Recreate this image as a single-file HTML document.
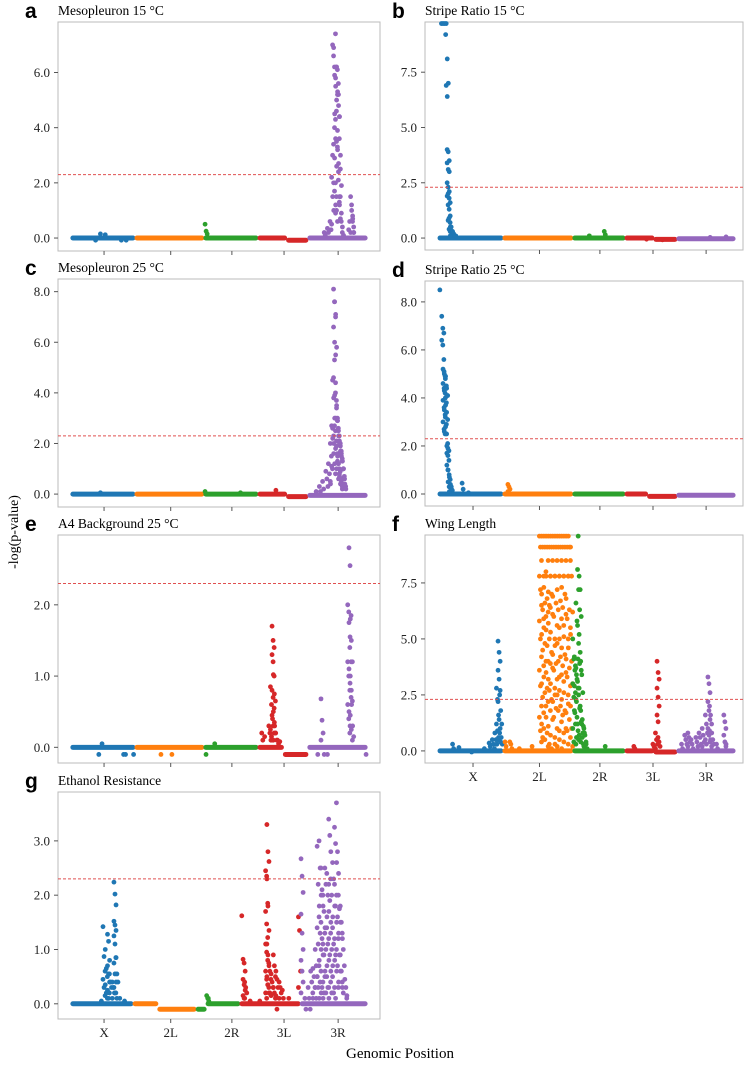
<!DOCTYPE html>
<html><head><meta charset="utf-8"><style>
html,body{margin:0;padding:0;background:#fff;}
svg text{font-family:"Liberation Serif",serif;}
</style></head><body>
<svg id="fig" width="750" height="1064" viewBox="0 0 750 1064" xmlns="http://www.w3.org/2000/svg">
<text x="18" y="532" font-size="14" text-anchor="middle" transform="rotate(-90 18 532)">-log(p-value)</text>
<text x="400" y="1058" font-size="15" text-anchor="middle">Genomic Position</text>
</svg>
<script>
const colors=["#1f77b4","#ff7f0e","#2ca02c","#d62728","#9467bd"];
const chromLabels=["X","2L","2R","3L","3R"];
const threshold=2.3;
const leftBounds=[4,23.9,45.3,62.1,77.6,96];
const rightBounds=[4.1,24.5,46.5,62.9,79.2,97.5];
const gBounds=[4,23.3,42.9,56.5,75.2,96];
const leftTicks=[14.3,35,54,70.2,87];
const rightTicks=[15.1,36,55,71.7,88.4];

// panel a
const aCols=[12,13.5,15,20,21.5,46,83,84,84.8,85.3,85.6,85.9,86.2,86.5,86.8,87.1,87.4,87.7,88.0,88.3,89,90.6,90.9,91.2,91.5,91.8,92.2];
const aVals=[[-0.08],[0.15],[0.12],[-0.08],[-0.08],[0.5,0.25,0.15],[0.2,0.1],[0.35,0.2],[0.6,0.3],[2.2,1.5,1.0,0.5],[7.0,6.9,4.5,3.0,2.0],[6.6,5.9,5.5,3.4,2.9,1.2],[6.2,5.8,5.0,4.0,3.6,2.6,1.7,0.9],[7.4,6.2,5.3,4.3,3.5,3.2,2.0,1.0],[6.2,5.2,4.8,4.6,3.9,2.7,1.5,0.6],[6.1,5.2,4.4,3.3,2.4,1.2],[5.6,4.4,3.0,2.1,1.5],[3.6,2.5,1.9,1.3,0.7],[1.5,0.9,0.4],[0.6,0.2],[0.1],[0.3],[0.6,0.2],[1.5,1.0,0.7],[1.2,0.8,0.4],[0.6,0.2],[0.2]];
const aBase=[[4,23.9,0],[23.9,45.3,0],[45.3,62.1,0],[62.1,71,0],[71,77.6,-0.08],[77.6,96,0]];
// panel b
const bCols=[5.5,6.0,6.5,7.0,7.3,7.6,7.9,8.3,9,10,52,56.7,70,75,90,95];
const bVals=[[9.7],[9.7],[9.7,9.2],[9.7,8.1,7.0,6.9,6.4],[4.0,3.9,3.5,3.4,3.1,3.0,2.5,2.3,2.1,1.9],[2.0,1.8,1.6,1.5,1.3,1.0,0.8],[0.9,0.7,0.5,0.4,0.3],[0.5,0.3,0.2,0.1],[0.3,0.2,0.1],[0.1],[0.1],[0.3,0.15],[-0.05],[-0.08],[0.03],[0.05]];
const bBase=[[4.1,24.5,0],[24.5,46.5,0],[46.5,62.9,0],[62.9,72,0],[72,79.2,-0.06],[79.2,97.5,-0.03]];
// panel c
const cCols=[13.5,46,57,68,80.5,81.5,82.5,83.5,84.3,84.9,85.3,85.6,85.9,86.2,86.5,86.8,87.1,87.4,87.7,88.0,88.3,88.6,89.0,89.4];
const cVals=[[0.05],[0.1],[0.05],[0.15],[0.1],[0.3,0.1],[0.5,0.2],[0.9,0.6,0.3],[1.2,0.8,0.4],[2.0,1.5,1.0,0.5],[2.7,2.2,1.6,1.1],[4.5,3.8,3.0,2.6,2.0,1.2],[8.1,7.6,7.1,6.6,6.0,5.5,4.6,3.9,3.0,2.3],[7.6,7.0,5.8,5.3,4.4,3.5,2.7,1.8,1.0],[4.0,3.4,2.9,2.5,2.1,1.5,0.8],[3.7,3.0,2.3,1.9,1.3,0.6],[2.9,2.5,2.0,1.6,1.2,0.7],[2.6,2.1,1.7,1.2,0.8,0.4],[2.3,1.9,1.5,1.0,0.6],[2.0,1.6,1.3,0.9,0.5],[1.7,1.3,1.0,0.6,0.2],[1.4,1.0,0.7,0.3],[1.0,0.6,0.3],[0.4,0.2]];
const cBase=[[4,23.9,0],[23.9,45.3,0],[45.3,62.1,0],[62.1,71,0],[71,77.6,-0.1],[77.6,96,-0.05]];
// panel d
const dCols=[5.0,5.6,6.0,6.4,6.8,7.2,7.6,8.0,8.6,12,14,26.4];
const dVals=[[8.5],[7.4,6.9,6.7,6.4,6.2,5.6],[5.2,5.1,4.9,4.6,4.4,4.2,3.9,3.6,3.3,3.0,2.7,2.5],[5.0,4.8,4.5,4.3,4.0,3.8,3.5,3.2,2.9,2.6],[4.9,4.4,4.1,3.7,3.4,3.1,2.8,2.5,2.1],[2.0,1.9,1.8,1.7,1.6,1.4,1.2,1.0],[1.0,0.8,0.6,0.5,0.3],[0.7,0.4,0.2,0.1],[0.3,0.15],[0.45,0.2],[0.05],[0.4,0.3,0.2,0.1]];
const dBase=[[4.1,24.5,0],[24.5,46.5,0],[46.5,62.9,0],[62.9,70,0],[70,79.2,-0.1],[79.2,97.5,-0.05]];
// panel e
const eCols=[13,14,20.7,21.3,23.8,32.3,35.7,46.3,49,63.6,64.5,65.8,66.3,66.8,67.2,67.6,68.5,69.2,81,82,83,84,90.3,90.7,91.1,91.5,96];
const eVals=[[-0.1],[0.05],[-0.1],[-0.1],[-0.1],[-0.1],[-0.1],[-0.1],[0.05],[0.2,0.1],[0.15],[0.3,0.2,0.1],[0.85,0.6,0.4,0.25,0.15],[1.7,1.5,1.4,1.3,1.2,1.0,0.8,0.7,0.55,0.45,0.3,0.2,0.1],[1.02,0.75,0.65,0.5,0.35,0.2,0.1],[0.3,0.2,0.1],[0.1,0.05],[0.08],[-0.1],[0.68,0.38,0.2,0.1],[-0.1],[-0.1],[2.0,1.9,1.4,1.2,1.0,0.8,0.6,0.4,0.2],[2.8,2.55,1.85,1.75,1.55,1.2,1.1,0.9,0.7,0.5,0.3],[1.8,1.5,1.2,1.0,0.8,0.65,0.45,0.25,0.1],[0.6,0.3,0.15],[-0.1]];
const eBase=[[4,23.9,0],[23.9,45.3,0],[45.3,62.1,0],[62.1,70,0],[70,77.6,-0.1],[77.6,96,0]];
// panel f
const fCols=[9,11,15,19,20.5,21.5,22.3,22.8,23.3,23.8,24.3,25.5,27,30,34,36.3,37.0,37.7,38.4,39.1,39.8,40.5,41.2,41.9,42.6,43.3,44.0,44.7,45.4,46.1,46.8,47.3,47.8,48.3,48.5,48.8,49.3,49.8,50.3,51,57,66,72,72.8,73.3,73.6,81,82,83,84,85.5,86.5,87.5,88.5,89.3,89.8,90.5,92,94.3,95];
const fVals=[[0.3,0.1],[0.15],[-0.05],[0.1],[0.35,0.2],[0.5,0.3,0.1],[0.8,0.5,0.3],[2.8,2.3,1.6,1.2,0.9,0.6,0.3],[4.9,4.4,4.0,3.6,3.2,2.7,2.2,1.4,1.0,0.5],[2.5,1.8,1.2,0.8,0.4],[0.6,0.3],[0.4,0.2],[0.4,0.3,0.1],[0.1],[0.2],
[9.7,9.1,8.5,7.8,7.2,6.5,5.8,5.0,4.2,3.6,2.9,2.0,1.5,0.9,0.4],[9.7,9.1,7.8,7.0,6.3,5.9,5.2,4.5,3.8,3.0,2.4,1.7,1.2,0.6],[9.7,9.1,8.0,7.3,6.6,6.0,5.5,4.8,4.0,3.3,2.6,2.0,1.0,0.5],[9.7,9.1,8.5,7.8,6.8,6.2,5.4,4.7,4.0,3.5,2.8,2.2,1.5,0.8,0.2],[9.7,9.1,7.8,7.1,6.5,6.4,5.7,5.0,3.9,3.2,2.7,1.8,1.1,0.3],[9.7,9.1,8.5,7.8,7.0,6.1,5.3,4.4,3.7,3.0,2.3,1.4,0.7,0.1],[9.7,9.1,7.8,6.9,6.0,5.0,4.3,3.6,2.8,2.2,1.5,0.6],[9.7,9.1,8.5,7.8,6.6,5.6,4.7,3.9,3.2,2.5,1.9,1.0,0.3],[9.7,9.1,7.8,7.2,6.3,5.5,4.8,4.0,3.3,2.5,1.8,0.9,0.2],[9.7,9.1,8.5,7.8,6.7,5.9,5.0,4.2,3.4,2.7,2.0,1.3,0.5],[9.7,9.1,7.8,7.3,6.4,5.6,4.6,3.8,3.1,2.3,1.6,0.8,0.1],[9.7,9.1,8.5,7.8,7.0,6.1,5.1,4.3,3.5,2.6,1.8,1.0,0.4],[9.7,9.1,7.8,6.8,5.9,5.0,4.1,3.3,2.5,1.7,0.9,0.3],[9.7,9.1,8.5,7.8,6.3,5.5,4.6,3.7,2.9,2.1,1.4,0.6],[9.1,7.8,6.2,5.2,4.0,3.0,2.0,1.0,0.2],
[5.0,4.1,3.6,3.0,2.4,1.7,1.0,0.4],[4.2,3.8,3.4,2.9,2.6,2.2,1.8,1.2,0.6],[6.6,5.8,4.1,3.7,3.2,2.8,2.3,1.5,0.9,0.3],[8.1,7.2,6.3,5.6,4.8,3.9,3.1,2.5,1.9,1.2,0.5],[9.6],[7.8,7.2,6.0,5.2,4.4,3.6,2.8,2.0,1.3,0.7],[4.0,3.4,2.6,1.8,1.2,0.8,0.4],[1.4,1.1,0.8,0.6,0.3],[1.0,0.7,0.4,0.2],[0.3,0.1],[0.2],
[0.2,0.1],[0.3,0.2],[0.8,0.5,0.3,0.1],[4.0,3.5,3.2,2.8,2.4,2.0,1.6,1.3],[0.6,0.4,0.2],
[0.3,0.1],[0.7,0.5,0.3],[0.8,0.6,0.4,0.2],[0.5,0.3,0.1],[0.6,0.4,0.2],[0.8,0.6,0.3],[1.0,0.7,0.4,0.2],[1.6,1.2,0.8,0.5,0.3],[3.3,3.0,2.6,2.2,1.8,1.4,1.0,0.7,0.4],[2.0,1.6,1.2,0.9,0.5,0.2],[0.8,0.5,0.3],[0.3,0.1],[1.6,1.3,1.0,0.7,0.4,0.2],[0.3]];
const fBase=[[4.1,24.5,0],[24.5,46.5,0],[46.5,62.9,0],[62.9,72,0],[72,79.2,-0.05],[79.2,97.5,0]];
// panel g
const gCols=[13.8,14.3,15,15.7,16.3,17.2,17.7,18.3,19.5,21,46.5,47,57.4,57.8,58.3,60,63,64.8,65.2,65.8,66.5,67.2,68,69,70,72,75,75.8,77,78,78.8,79.5,80.2,80.8,81.4,82,82.6,83.2,83.8,84.4,85,85.6,86.2,86.8,87.4,88,88.6,89.4,90];
const gVals=[[0.05],[1.42,0.87,0.6,0.45,0.3,0.15],[1.0,0.65,0.5,0.35,0.2,0.1],[1.28,1.15,0.8,0.7,0.55,0.4,0.25,0.1],[0.55,0.4,0.3,0.2],[0.4,0.3,0.2,0.1],[2.24,2.02,1.82,1.52,1.45,1.35,1.25,1.1,0.85,0.75,0.55,0.4,0.3,0.2],[0.85,0.55,0.4,0.2,0.1],[0.1],[0.05],[0.15,0.1,0.05],[0.1],[1.62],[0.82,0.75,0.6,0.45,0.35,0.25,0.15,0.1],[0.4,0.3,0.2,0.1],[0.05],[0.05],[2.45,2.35,1.85,1.7,1.47,1.22,1.1,0.95,0.8,0.6,0.45,0.35,0.2,0.1],[3.3,2.8,2.62,2.3,1.8,1.35,1.1,0.9,0.7,0.5,0.35,0.2],[0.75,0.6,0.45,0.3,0.2],[0.55,0.4,0.3,0.15],[0.9,0.7,0.5,0.3,0.2,0.1],[0.6,0.45,0.3,0.15,-0.1],[0.4,0.3,0.2,0.1],[0.25,0.1],[0.1],[1.6,1.35,0.6,0.3],[2.67,2.35,2.05,1.65,1.3,1.0,0.8,0.6,0.4,0.2],[0.1,-0.1],[0.3,0.1,-0.1],[0.6,0.4,0.2],[0.65,0.5,0.3,0.1],[1.0,0.7,0.5,0.3,0.1],[2.9,2.2,1.8,1.4,1.1,0.8,0.5,0.3,0.1],[3.0,2.5,2.0,1.6,1.3,1.0,0.7,0.4,0.2],[2.5,2.1,1.8,1.5,1.2,0.9,0.6,0.3,0.1],[2.0,1.7,1.4,1.1,0.9,0.6,0.4,0.2],[2.5,2.2,1.6,1.3,1.0,0.7,0.5,0.2],[2.4,2.0,1.7,1.4,1.1,0.8,0.5,0.3,0.1],[3.4,3.1,2.8,2.2,1.9,1.5,1.2,0.9,0.6,0.3],[2.3,2.0,1.6,1.3,1.0,0.7,0.4,0.2],[2.6,2.3,1.8,1.4,1.1,0.8,0.5,0.2],[3.25,2.95,2.6,2.2,1.8,1.5,1.2,0.9,0.6,0.3,0.1],[3.7,2.8,2.4,2.0,1.6,1.3,1.0,0.7,0.4],[2.0,1.75,1.5,1.2,0.9,0.6,0.3],[1.8,1.5,1.2,0.9,0.6,0.3],[1.3,1.0,0.7,0.4,0.2],[0.45,0.3,0.15],[0.1]];
const gBase=[[4,23.3,0],[23.3,31,0],[31,42.9,-0.1],[42.9,46,-0.1],[46,56.5,0],[56.5,75.2,0],[75.2,96,0]];

const yTicksA=[0,2,4,6], yTicksB=[0,2.5,5,7.5], yTicksC=[0,2,4,6,8], yTicksE=[0,1,2], yTicksG=[0,1,2,3];

const NS="http://www.w3.org/2000/svg";
const svg=document.getElementById('fig');
function mk(tag,attrs,parent){const e=document.createElementNS(NS,tag);for(const k in attrs)e.setAttribute(k,attrs[k]);(parent||svg).appendChild(e);return e;}

const panels=[
 {id:'a',title:'Mesopleuron 15 °C',x0:58,x1:380,top:22,bot:251,ymin:-0.47,ymax:7.83,ticks:yTicksA,cols:aCols,vals:aVals,base:aBase,bounds:leftBounds,xt:leftTicks,lab:false},
 {id:'b',title:'Stripe Ratio 15 °C',x0:425,x1:743,top:22,bot:250,ymin:-0.54,ymax:9.77,ticks:yTicksB,cols:bCols,vals:bVals,base:bBase,bounds:rightBounds,xt:rightTicks,lab:false},
 {id:'c',title:'Mesopleuron 25 °C',x0:58,x1:380,top:279,bot:507,ymin:-0.51,ymax:8.5,ticks:yTicksC,cols:cCols,vals:cVals,base:cBase,bounds:leftBounds,xt:leftTicks,lab:false},
 {id:'d',title:'Stripe Ratio 25 °C',x0:425,x1:743,top:281,bot:506,ymin:-0.5,ymax:8.87,ticks:yTicksC,cols:dCols,vals:dVals,base:dBase,bounds:rightBounds,xt:rightTicks,lab:false},
 {id:'e',title:'A4 Background 25 °C',x0:58,x1:380,top:535,bot:763,ymin:-0.22,ymax:2.98,ticks:yTicksE,cols:eCols,vals:eVals,base:eBase,bounds:leftBounds,xt:leftTicks,lab:false},
 {id:'f',title:'Wing Length',x0:425,x1:743,top:535,bot:763,ymin:-0.54,ymax:9.64,ticks:yTicksB,cols:fCols,vals:fVals,base:fBase,bounds:rightBounds,xt:rightTicks,lab:true},
 {id:'g',title:'Ethanol Resistance',x0:58,x1:380,top:792,bot:1019,ymin:-0.28,ymax:3.9,ticks:yTicksG,cols:gCols,vals:gVals,base:gBase,bounds:gBounds,xt:leftTicks,lab:true}
];

function chromOf(x,b){for(let i=0;i<5;i++){if(x<b[i+1])return i;}return 4;}

panels.forEach(p=>{
 const g=mk('g',{});
 
 
 const sx=v=>p.x0+v/100*(p.x1-p.x0);
 const sy=v=>p.bot-(v-p.ymin)/(p.ymax-p.ymin)*(p.bot-p.top);
 const letter=mk('text',{x:p.x0-33,y:p.top-4,'font-size':21,'font-weight':'bold',style:'font-family:"Liberation Sans",sans-serif'},g);
 letter.textContent=p.id;
 
 
 const t=mk('text',{x:p.x0,y:p.top-7,'font-size':13.5},g);
 t.textContent=p.title;
 
 
 const frame=mk('rect',{x:p.x0,y:p.top,width:p.x1-p.x0,height:p.bot-p.top,fill:'none',stroke:'#bbb','stroke-width':1},g);
 
 
 p.ticks.forEach(v=>{
  const y=sy(v);
  mk('line',{x1:p.x0-4,x2:p.x0,y1:y,y2:y,stroke:'#555'},g);
  const tl=mk('text',{x:p.x0-8,y:y+4.5,'font-size':13,'text-anchor':'end',fill:'#222'},g);
  tl.textContent=v.toFixed(1);
  
  
 });
 p.xt.forEach((v,i)=>{
  const x=sx(v);
  mk('line',{x1:x,x2:x,y1:p.bot,y2:p.bot+4,stroke:'#555'},g);
  if(p.lab){
   const xl=mk('text',{x:x,y:p.bot+18,'font-size':13,'text-anchor':'middle',fill:'#222'},g);
   xl.textContent=chromLabels[i];
   
   
  }
 });
 p.base.forEach(s=>{
  const c=chromOf((s[0]+s[1])/2,p.bounds);
  const ln=mk('line',{x1:sx(s[0])+2,x2:sx(s[1])-2,y1:sy(s[2]),y2:sy(s[2]),stroke:colors[c],'stroke-width':5,'stroke-linecap':'round'},g);
  
  
 });
 p.cols.forEach((x,i)=>{
  const c=chromOf(x,p.bounds);
  p.vals[i].forEach((v,j)=>{
   const vv=Math.min(v,p.ymax-0.05);
   const off=((j%3)-1)*0.35;
   const pt=mk('circle',{cx:sx(x)+off*3,cy:sy(vv),r:2.4,fill:colors[c]},g);
   
   
  });
 });
 const th=mk('line',{x1:p.x0,x2:p.x1,y1:sy(threshold),y2:sy(threshold),stroke:'#e05050','stroke-width':1,'stroke-dasharray':'3,2'},g);
 
 
});
</script>
</body></html>
